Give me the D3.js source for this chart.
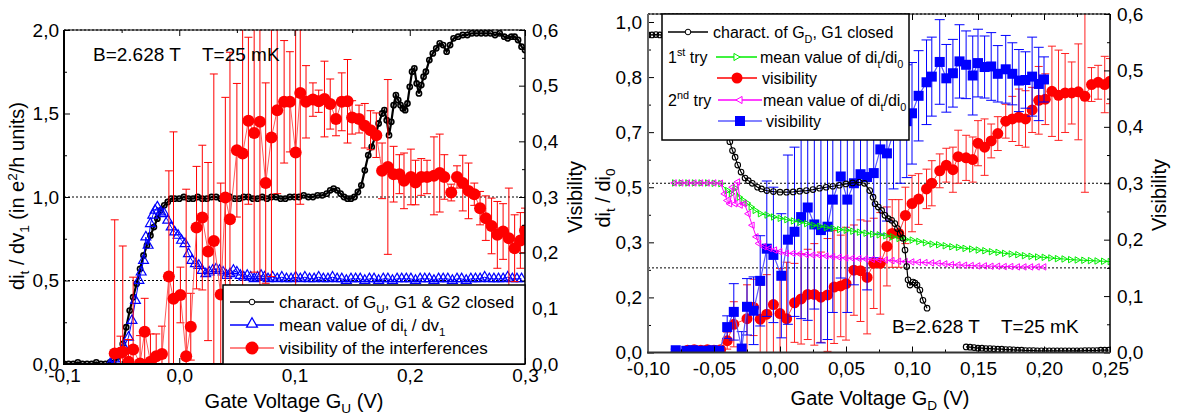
<!DOCTYPE html>
<html lang="en">
<head>
<meta charset="utf-8" />
<title>Gate voltage sweeps: di/dv and visibility</title>
<script src="https://d3js.org/d3.v7.min.js"></script>
<style>
  body { margin: 0; background: #fff; }
  svg { display: block; font-family: "Liberation Sans", Arial, sans-serif; }
  .tick line { stroke: #000; stroke-width: 1; }
  .tick text { font-size: 19px; fill: #000; }
  .legend text { font-size: 17px; }
</style>
</head>
<body>
<svg width="1178" height="415"></svg>
<script>
// ---------- left panel: sweep of G_U ----------
var uCharX = [-0.100,-0.096,-0.092,-0.088,-0.084,-0.080,-0.076,-0.072,-0.068,-0.064,-0.060,
  -0.057,-0.054,-0.051,-0.049,-0.046,-0.043,-0.040,-0.037,-0.034,-0.031,-0.028,-0.025,-0.022,-0.019,-0.016,-0.013,-0.010,-0.007,-0.004,
  0.000,0.004,0.008,0.012,0.016,0.020,0.024,0.028,0.032,0.036,0.040,0.044,0.048,0.052,0.056,0.060,
  0.064,0.068,0.072,0.076,0.080,0.084,0.088,0.092,0.096,0.100,0.104,0.108,0.112,0.116,0.120,0.124,
  0.128,0.131,0.134,0.137,0.140,0.143,0.146,0.149,0.152,0.155,0.158,0.161,0.164,0.167,0.170,0.173,0.176,
  0.178,0.180,0.182,0.184,0.186,0.188,0.190,0.192,0.194,0.196,0.198,0.200,0.202,0.204,0.206,0.208,0.210,0.212,0.214,
  0.217,0.220,0.223,0.226,0.229,0.232,0.235,0.238,
  0.242,0.246,0.250,0.254,0.258,0.262,0.266,0.270,0.274,0.278,0.282,
  0.285,0.288,0.291,0.294,0.297,0.300];
var uCharY = [0.00,0.00,0.00,0.01,0.00,0.00,0.00,0.01,0.00,0.00,0.01,
  0.02,0.04,0.08,0.12,0.22,0.32,0.40,0.48,0.57,0.65,0.71,0.77,0.82,0.87,0.92,0.95,0.97,0.99,0.99,
  0.99,1.00,0.99,0.99,1.00,0.99,0.99,1.00,1.00,0.99,0.99,1.00,0.99,0.99,1.00,1.00,
  0.99,0.99,1.00,0.99,1.00,1.00,0.99,0.99,1.00,1.00,1.00,1.01,1.00,1.00,1.01,1.01,
  1.02,1.04,1.05,1.04,1.02,1.00,0.99,0.99,1.00,1.03,1.07,1.16,1.25,1.30,1.36,1.44,1.50,
  1.52,1.46,1.37,1.45,1.55,1.61,1.58,1.55,1.53,1.52,1.56,1.66,1.75,1.77,1.68,1.62,1.67,1.72,1.75,
  1.82,1.86,1.89,1.92,1.91,1.87,1.91,1.95,
  1.96,1.97,1.97,1.98,1.98,1.98,1.98,1.98,1.97,1.98,1.96,
  1.95,1.96,1.96,1.94,1.90,1.88];

var uMeanX = [-0.060,-0.056,-0.052,-0.048,-0.044,-0.041,-0.038,-0.035,-0.033,-0.031,
  -0.029,-0.027,-0.025,-0.023,-0.021,-0.019,-0.016,-0.013,-0.010,-0.007,
  -0.004,-0.001,0.002,0.005,0.008,0.011,0.014,0.017,0.020,0.023,
  0.026,0.029,0.032,0.035,0.038,0.041,0.044,0.047,0.050,0.053,
  0.056,0.059,0.062,0.065,0.068,0.071,0.074,0.077,
  0.081,0.085,0.089,0.093,0.097,0.101,0.105,0.109,0.113,0.117,
  0.121,0.125,0.129,0.133,0.137,0.141,0.145,0.149,0.153,0.157,
  0.161,0.165,0.169,0.173,0.177,0.181,0.185,0.189,0.193,0.197,
  0.201,0.205,0.209,0.213,0.217,0.221,0.225,0.229,0.233,0.237,
  0.241,0.245,0.249,0.253,0.257,0.261,0.265,0.269,0.273,0.277,
  0.281,0.285,0.289,0.293,0.297];
var uMeanY = [0.00,0.03,0.06,0.10,0.16,0.26,0.38,0.50,0.55,0.62,
  0.76,0.71,0.84,0.89,0.92,0.94,0.91,0.90,0.86,0.82,
  0.79,0.77,0.74,0.72,0.66,0.62,0.60,0.59,0.56,0.54,
  0.55,0.56,0.57,0.56,0.55,0.53,0.54,0.56,0.55,0.53,
  0.52,0.53,0.52,0.51,0.52,0.53,0.52,0.51,
  0.52,0.51,0.52,0.51,0.51,0.52,0.51,0.52,0.51,0.51,
  0.52,0.51,0.51,0.52,0.51,0.51,0.50,0.51,0.51,0.51,
  0.50,0.51,0.51,0.50,0.51,0.51,0.50,0.51,0.51,0.51,
  0.51,0.50,0.51,0.51,0.51,0.50,0.51,0.51,0.51,0.50,
  0.51,0.51,0.50,0.51,0.51,0.51,0.52,0.51,0.51,0.51,
  0.51,0.52,0.51,0.51,0.51];

var uVisX = [-0.056,-0.051,-0.049,-0.044,-0.040, -0.034,-0.030,-0.025,-0.020,-0.015,
  -0.009,-0.005,0.001,0.006,0.010, 0.015,0.020,0.025,0.030,0.036,
  0.040,0.044,0.050,0.055,0.060, 0.065,0.070,0.075,0.080,0.085,
  0.091,0.096,0.101,0.105,0.110, 0.116,0.121,0.126,0.131,0.136,
  0.141,0.146,0.150,0.156,0.161, 0.166,0.171,0.176,0.181,0.186,
  0.191,0.195,0.201,0.205,0.210, 0.215,0.221,0.226,0.230,0.236,
  0.241,0.246,0.251,0.256,0.261, 0.266,0.271,0.276,0.281,0.286,
  0.291,0.296,0.300];
var uVisY = [0.019,0.020,0.022,0.004,0.026, 0.001,0.058,0.004,0.014,0.018,
  0.157,0.117,0.124,0.014,0.067, 0.245,0.263,0.202,0.221,0.125,
  0.299,0.260,0.384,0.378,0.437, 0.415,0.435,0.325,0.407,0.456,
  0.471,0.471,0.380,0.487,0.471, 0.475,0.472,0.476,0.467,0.440,
  0.471,0.472,0.443,0.440,0.428, 0.420,0.411,0.347,0.354,0.341,
  0.341,0.329,0.336,0.326,0.336, 0.336,0.338,0.343,0.336,0.308,
  0.336,0.325,0.311,0.305,0.280, 0.262,0.248,0.232,0.238,0.226,
  0.208,0.222,0.240];
var uVisErr = [0.24,0.03,0.19,0.04,0.13, 0.05,0.06,0.05,0.04,0.05,
  0.19,0.30,0.05,0.30,0.06, 0.11,0.13,0.16,0.30,0.20,
  0.18,0.30,0.12,0.30,0.15, 0.25,0.30,0.18,0.25,0.15,
  0.11,0.09,0.25,0.20,0.065, 0.03,0.02,0.068,0.045,0.03,
  0.052,0.075,0.03,0.025,0.04, 0.035,0.04,0.05,0.157,0.05,
  0.035,0.05,0.05,0.04,0.033, 0.03,0.07,0.07,0.04,0.015,
  0.02,0.05,0.05,0.02,0.03, 0.04,0.05,0.06,0.05,0.09,
  0.06,0.05,0.04];

// ---------- right panel: sweep of G_D ----------
var dCharX = [-0.100,-0.097,-0.094,-0.091,-0.088, -0.080,-0.070,-0.060,-0.050,-0.044,
  -0.040,-0.038,-0.036,-0.034,-0.032, -0.0295,-0.0265,-0.024,-0.021,-0.017,
  -0.014,-0.010,-0.005,0.000,0.005, 0.010,0.015,0.020,0.025,0.030,
  0.035,0.040,0.045,0.050,0.055, 0.060,0.064,0.068,0.0705,0.072,
  0.0745,0.077,0.0795,0.082,0.0846, 0.087,0.089,0.091,0.093,0.0947,
  0.096,0.097,0.0985,0.1008,0.1023, 0.1038,0.106,0.1083,0.1114,
  0.141,0.144,0.147,0.150,0.153,0.156,0.159,0.162,0.165,0.168,
  0.171,0.174,0.177,0.180,0.183,0.186,0.189,0.192,0.195,0.198,
  0.201,0.204,0.207,0.210,0.213,0.216,0.219,0.222,0.225,0.228,
  0.231,0.234,0.237,0.240,0.243,0.246,0.249];
var dCharY = [0.961,0.961,0.962,0.961,0.960, 0.95,0.91,0.84,0.76,0.70,
  0.66,0.638,0.611,0.591,0.567, 0.546,0.528,0.52,0.512,0.50,
  0.495,0.49,0.487,0.485,0.485, 0.486,0.488,0.49,0.493,0.497,
  0.50,0.503,0.506,0.51,0.513, 0.515,0.512,0.49,0.47,0.45,
  0.44,0.43,0.415,0.405,0.40, 0.39,0.375,0.36,0.346,0.31,
  0.26,0.22,0.204,0.213,0.21, 0.204,0.189,0.158,0.134,
  0.017,0.016,0.015,0.013,0.013,0.012,0.012,0.011,0.010,0.010,
  0.009,0.009,0.008,0.007,0.007,0.006,0.006,0.006,0.005,0.005,
  0.005,0.005,0.005,0.005,0.005,0.005,0.005,0.005,0.005,0.005,
  0.006,0.006,0.006,0.006,0.007,0.007,0.007];

var dMean1X = [-0.080,-0.075,-0.070,-0.065,-0.060,-0.055,-0.050,-0.045,-0.040,-0.037,
  -0.034,-0.031,-0.028,-0.025,-0.022,-0.019,-0.015,-0.010,-0.005,
  0.000,0.005,0.010,0.015,0.020,0.025,0.030,0.035,0.040,0.045,
  0.050,0.055,0.060,0.065,0.070,0.075,0.080,0.085,0.090,0.095,
  0.100,0.105,0.110,0.115,0.120,0.125,0.130,0.135,0.140,0.145,
  0.150,0.155,0.160,0.165,0.170,0.175,0.180,0.185,0.190,0.195,
  0.200,0.205,0.210,0.215,0.220,0.225,0.230,0.235,0.240,0.245,
  0.250];
var dMean1Y = [0.513,0.513,0.513,0.513,0.513,0.513,0.512,0.511,0.490,0.480,
  0.497,0.470,0.460,0.452,0.440,0.430,0.420,0.416,0.410,
  0.406,0.402,0.398,0.394,0.390,0.385,0.382,0.378,0.376,0.372,
  0.370,0.367,0.364,0.361,0.358,0.356,0.353,0.350,0.345,0.342,
  0.340,0.336,0.332,0.328,0.326,0.323,0.320,0.318,0.315,0.313,
  0.310,0.308,0.305,0.303,0.300,0.298,0.296,0.293,0.291,0.289,
  0.288,0.286,0.284,0.283,0.281,0.280,0.279,0.278,0.277,0.276,
  0.275];

var dMean2X = [-0.080,-0.075,-0.070,-0.065,-0.060,-0.055,-0.050,-0.045,-0.042,-0.040,
  -0.038,-0.036,-0.034,-0.032,-0.030,-0.027,-0.024,-0.021,-0.018,-0.016,
  -0.012,-0.008,-0.004,
  0.000,0.005,0.010,0.015,0.020,0.025,0.030,0.035,0.040,0.045,
  0.050,0.055,0.060,0.065,0.070,0.075,0.080,0.085,0.090,0.095,
  0.100,0.105,0.110,0.115,0.120,0.125,0.130,0.135,0.140,0.145,
  0.150,0.155,0.160,0.165,0.170,0.175,0.180,0.185,0.190,0.195,
  0.200];
var dMean2Y = [0.513,0.513,0.513,0.513,0.513,0.513,0.513,0.512,0.480,0.460,
  0.450,0.500,0.450,0.516,0.446,0.450,0.420,0.385,0.350,0.330,
  0.320,0.315,0.310,
  0.305,0.300,0.300,0.298,0.296,0.295,0.294,0.292,0.290,0.288,
  0.286,0.285,0.284,0.283,0.282,0.281,0.280,0.278,0.276,0.275,
  0.274,0.273,0.272,0.271,0.270,0.268,0.266,0.265,0.264,0.263,
  0.262,0.262,0.261,0.261,0.260,0.260,0.259,0.259,0.259,0.259,
  0.259];

var dVis1X = [-0.070,-0.065,-0.060,-0.055,-0.050,-0.045,-0.040,-0.035,
  -0.025,-0.020,-0.015,-0.010,-0.005, 0.000,0.005,0.011,0.016,0.021,
  0.026,0.031,0.036,0.041,0.046, 0.050,0.056,0.061,0.066,0.071,
  0.076,0.081,0.085,0.090,0.095, 0.100,0.105,0.111,0.115,0.121,
  0.126,0.131,0.135,0.141,0.146, 0.150,0.155,0.160,0.165,0.171,
  0.176,0.181,0.186,0.191,0.196, 0.201,0.206,0.211,0.216,0.221,
  0.226,0.231,0.236,0.241,0.246, 0.250];
var dVis1Y = [0.004,0.005,0.004,0.005,0.004,0.005,0.021,0.050,
  0.060,0.080,0.059,0.068,0.085, 0.069,0.060,0.088,0.095,0.103,
  0.103,0.098,0.102,0.116,0.118, 0.122,0.146,0.145,0.133,0.158,
  0.158,0.188,0.211,0.211,0.243, 0.264,0.272,0.290,0.300,0.322,
  0.332,0.324,0.347,0.345,0.342, 0.371,0.364,0.375,0.388,0.410,
  0.414,0.417,0.414,0.430,0.447, 0.449,0.463,0.456,0.460,0.460,
  0.462,0.454,0.475,0.479,0.475, 0.481];
var dVis1Err = [0.003,0.003,0.003,0.003,0.003,0.003,0.015,0.04,
  0.06,0.05,0.06,0.07,0.09, 0.08,0.10,0.07,0.08,0.08,
  0.09,0.08,0.10,0.10,0.09, 0.10,0.08,0.09,0.10,0.08,
  0.09,0.07,0.06,0.06,0.05, 0.05,0.045,0.035,0.04,0.03,
  0.03,0.04,0.047,0.04,0.04, 0.04,0.05,0.03,0.03,0.03,
  0.04,0.05,0.05,0.04,0.06, 0.045,0.08,0.08,0.07,0.055,
  0.085,0.17,0.03,0.03,0.05, 0.04];

var dVis2X = [-0.079,-0.071,-0.066,-0.061,-0.056, -0.051,-0.046,-0.040,-0.035,-0.029,
  -0.025,-0.020,-0.015,-0.010,-0.005, 0.001,0.006,0.011,0.016,0.021,
  0.026,0.031,0.036,0.040,0.046, 0.051,0.056,0.061,0.066,0.071,
  0.076,0.081,0.086,0.091,0.096, 0.100,0.105,0.111,0.115,0.121,
  0.126,0.131,0.136,0.141,0.146, 0.150,0.155,0.160,0.165,0.171,
  0.176,0.181,0.186,0.191,0.196, 0.200];
var dVis2Y = [0.004,0.003,0.004,0.003,0.003, 0.004,0.003,0.045,0.072,0.007,
  0.081,0.074,0.127,0.184,0.173, 0.136,0.200,0.214,0.240,0.257,
  0.227,0.217,0.223,0.271,0.312, 0.271,0.300,0.316,0.311,0.318,
  0.360,0.353,0.390,0.400,0.410, 0.424,0.455,0.479,0.489,0.515,
  0.486,0.495,0.516,0.510,0.491, 0.513,0.506,0.507,0.494,0.502,
  0.494,0.482,0.483,0.489,0.476, 0.484];
var dVis2Err = [0.002,0.002,0.002,0.002,0.002, 0.002,0.002,0.02,0.05,0.03,
  0.05,0.06,0.08,0.12,0.12, 0.11,0.15,0.15,0.18,0.20,
  0.15,0.20,0.20,0.20,0.18, 0.20,0.18,0.15,0.20,0.15,
  0.15,0.12,0.10,0.10,0.10, 0.09,0.08,0.075,0.07,0.075,
  0.06,0.06,0.065,0.06,0.07, 0.06,0.055,0.06,0.05,0.06,
  0.055,0.055,0.05,0.07,0.065, 0.04];

// ---------- ticks ----------
var uXTicks = [-0.1, 0, 0.1, 0.2, 0.3], uXMinor = [-0.05, 0.05, 0.15, 0.25];
var uYTicks = [0, 0.5, 1.0, 1.5, 2.0], uYMinor = [0.25, 0.75, 1.25, 1.75];
var visTicks = [0, 0.1, 0.2, 0.3, 0.4, 0.5, 0.6], visMinor = [0.05, 0.15, 0.25, 0.35, 0.45, 0.55];
var dXTicks = [-0.1, -0.05, 0, 0.05, 0.1, 0.15, 0.2, 0.25];
var dXMinor = [-0.075, -0.025, 0.025, 0.075, 0.125, 0.175, 0.225];
var dYTicks = [0, 0.1667, 0.3333, 0.5, 0.6667, 0.8333, 1.0];
var dYMinor = [0.0833, 0.25, 0.4167, 0.5833, 0.75, 0.9167];
var uRefLines = [0.5, 1.0, 2.0];      // dotted, left axis units
var dRefLines = [0.15, 0.3, 0.6];     // dotted, visibility units

var svg = d3.select("svg");
var loc = d3.formatLocale({decimal: ",", thousands: ".", grouping: [3], currency: ["", ""], minus: "-"});
var f1 = loc.format(".1f"), f2 = loc.format(".2f");

function zip(xs, ys, es) {
  return xs.map(function(x, i) { return {x: x, y: ys[i], e: es ? es[i] : 0}; });
}

// text with sub/superscripts: parts = [[text, "sub"|"sup"|undefined], ...]
function rich(t, parts) {
  var shift = 0;
  parts.forEach(function(p) {
    var want = p[1] === "sub" ? 5 : (p[1] === "sup" ? -7 : 0);
    var ts = t.append("tspan").attr("dy", want - shift).text(p[0]);
    if (p[1]) ts.style("font-size", "0.68em");
    shift = want;
  });
  return t;
}

var tri = function(size) { return d3.symbol().type(d3.symbolTriangle).size(size)(); };

function axes(g, box, x, y, v, o) {
  function put(gen, tf, vals, size, fmt, pad) {
    var a = g.append("g").attr("transform", tf)
      .call(gen.tickValues(vals).tickSize(-size).tickSizeOuter(0).tickPadding(pad || 3).tickFormat(fmt || ""));
    a.select(".domain").remove();
    return a;
  }
  var tb = "translate(0," + box.b + ")", tt = "translate(0," + box.t + ")";
  var tl = "translate(" + box.l + ",0)", tr = "translate(" + box.r + ",0)";
  put(d3.axisBottom(x), tb, o.xTicks, 6, o.xFmt, o.xPad);
  put(d3.axisBottom(x), tb, o.xMinor, 3);
  put(d3.axisTop(x), tt, o.xTicks, 6);
  put(d3.axisTop(x), tt, o.xMinor, 3);
  put(d3.axisLeft(y), tl, o.yTicks, 6, o.yFmt, o.yPad);
  put(d3.axisLeft(y), tl, o.yMinor, 3);
  put(d3.axisRight(v), tr, visTicks, 6, f1, o.vPad);
  put(d3.axisRight(v), tr, visMinor, 3);
  g.selectAll(".tick text").attr("fill", "#000").style("font-family", "inherit");
  g.append("line").attr("x1", box.l).attr("x2", box.r).attr("y1", box.t).attr("y2", box.t)
    .attr("stroke", "#000").attr("stroke-width", 1.2);
  g.append("line").attr("x1", box.r).attr("x2", box.r).attr("y1", box.t).attr("y2", box.b)
    .attr("stroke", "#000").attr("stroke-width", 1.5);
  g.append("line").attr("x1", box.l).attr("x2", box.l).attr("y1", box.t).attr("y2", box.b + 1)
    .attr("stroke", o.leftColor).attr("stroke-width", 2);
  g.append("line").attr("x1", box.l - 1).attr("x2", box.r).attr("y1", box.b).attr("y2", box.b)
    .attr("stroke", o.bottomColor).attr("stroke-width", 2);
}

function errBars(g, data, x, v, color, cap) {
  var eb = g.append("g").attr("stroke", color).attr("stroke-width", 1);
  data.forEach(function(d) {
    var cx = x(d.x), y0 = v(d.y - d.e), y1 = v(d.y + d.e);
    eb.append("line").attr("x1", cx).attr("x2", cx).attr("y1", y0).attr("y2", y1);
    eb.append("line").attr("x1", cx - cap).attr("x2", cx + cap).attr("y1", y0).attr("y2", y0);
    eb.append("line").attr("x1", cx - cap).attr("x2", cx + cap).attr("y1", y1).attr("y2", y1);
  });
}

function path(g, data, x, y, color, w) {
  g.append("path").datum(data)
    .attr("d", d3.line().x(function(d) { return x(d.x); }).y(function(d) { return y(d.y); }))
    .attr("fill", "none").attr("stroke", color).attr("stroke-width", w);
}

// ======================= LEFT PANEL =======================
var L = {l: 64, r: 525, t: 30, b: 364};
var xU = d3.scaleLinear().domain([-0.1, 0.3]).range([L.l, L.r]);
var yU = d3.scaleLinear().domain([0, 2]).range([L.b, L.t]);
var vU = d3.scaleLinear().domain([0, 0.6]).range([L.b, L.t]);

svg.append("clipPath").attr("id", "clipU").append("rect")
  .attr("x", L.l).attr("y", L.t).attr("width", L.r - L.l).attr("height", L.b - L.t);

var gU = svg.append("g");
gU.selectAll(".ref").data(uRefLines).enter().append("line")
  .attr("x1", L.l).attr("x2", L.r).attr("y1", function(d) { return yU(d); }).attr("y2", function(d) { return yU(d); })
  .attr("stroke", "#000").attr("stroke-width", 1).attr("stroke-dasharray", "2,2");

var pU = gU.append("g").attr("clip-path", "url(#clipU)");

var uChar = zip(uCharX, uCharY);
path(pU, uChar, xU, yU, "#000", 2.2);
pU.selectAll(".uc").data(uChar).enter().append("circle")
  .attr("cx", function(d) { return xU(d.x); }).attr("cy", function(d) { return yU(d.y); })
  .attr("r", 2.6).attr("fill", "none").attr("stroke", "#000").attr("stroke-width", 1.6);

var uMean = zip(uMeanX, uMeanY);
path(pU, uMean, xU, yU, "#0000ff", 1);
pU.selectAll(".um").data(uMean).enter().append("path")
  .attr("d", tri(42))
  .attr("transform", function(d) { return "translate(" + xU(d.x) + "," + yU(d.y) + ")"; })
  .attr("fill", "none").attr("stroke", "#0000ff").attr("stroke-width", 1.2);

var uVis = zip(uVisX, uVisY, uVisErr);
errBars(pU, uVis, xU, vU, "#ff0000", 4);
path(pU, uVis, xU, vU, "#ff5a5a", 1);
pU.selectAll(".uv").data(uVis).enter().append("circle")
  .attr("cx", function(d) { return xU(d.x); }).attr("cy", function(d) { return vU(d.y); })
  .attr("r", 6).attr("fill", "#ff0000");

axes(gU, L, xU, yU, vU, {
  xTicks: uXTicks, xMinor: uXMinor, xFmt: f1, xPad: 5,
  yTicks: uYTicks, yMinor: uYMinor, yFmt: f1, yPad: 5, vPad: 7,
  leftColor: "#000", bottomColor: "#000"
});

gU.append("text").attr("x", 93).attr("y", 61).style("font-size", "19px").text("B=2.628 T");
gU.append("text").attr("x", 202).attr("y", 61).style("font-size", "19px").text("T=25 mK");

rich(gU.append("text").attr("x", 294).attr("y", 408).attr("text-anchor", "middle").style("font-size", "20px"),
  [["Gate Voltage G"], ["U", "sub"], [" (V)"]]);
rich(gU.append("text").attr("transform", "translate(24,196) rotate(-90)").attr("text-anchor", "middle").style("font-size", "20px"),
  [["di"], ["t", "sub"], [" / dv"], ["1", "sub"], [" (in e"], ["2", "sup"], ["/h units)"]]);
gU.append("text").attr("transform", "translate(582,197) rotate(-90)").attr("text-anchor", "middle")
  .style("font-size", "20px").text("Visibility");

// legend
var lgU = gU.append("g").attr("class", "legend");
lgU.append("rect").attr("x", 223).attr("y", 285).attr("width", 302).attr("height", 79)
  .attr("fill", "#fff").attr("stroke", "#000").attr("stroke-width", 1.5);
[302, 325, 348].forEach(function(ry, i) {
  var col = ["#000", "#0000ff", "#ff5a5a"][i];
  lgU.append("line").attr("x1", 230).attr("x2", 274).attr("y1", ry).attr("y2", ry)
    .attr("stroke", col).attr("stroke-width", 1.3);
});
lgU.append("circle").attr("cx", 252).attr("cy", 302).attr("r", 2.8).attr("fill", "#fff").attr("stroke", "#000");
lgU.append("path").attr("d", tri(50)).attr("transform", "translate(252,324)")
  .attr("fill", "#fff").attr("stroke", "#0000ff").attr("stroke-width", 1.3);
lgU.append("circle").attr("cx", 252).attr("cy", 348).attr("r", 6.5).attr("fill", "#ff0000");
rich(lgU.append("text").attr("x", 279).attr("y", 308), [["charact. of G"], ["U", "sub"], [", G1 & G2 closed"]]);
rich(lgU.append("text").attr("x", 279).attr("y", 331), [["mean value of di"], ["t", "sub"], [" / dv"], ["1", "sub"]]);
lgU.append("text").attr("x", 279).attr("y", 354).text("visibility of the interferences");

// ======================= RIGHT PANEL =======================
var R = {l: 648, r: 1110, t: 14, b: 352.5};
var xD = d3.scaleLinear().domain([-0.1, 0.25]).range([R.l, R.r]);
var yD = d3.scaleLinear().domain([0, 1.0242]).range([R.b, R.t]);
var vD = d3.scaleLinear().domain([0, 0.6]).range([R.b, R.t]);

svg.append("clipPath").attr("id", "clipD").append("rect")
  .attr("x", R.l).attr("y", R.t).attr("width", R.r - R.l).attr("height", R.b - R.t);

var gD = svg.append("g");
gD.selectAll(".ref").data(dRefLines).enter().append("line")
  .attr("x1", R.l).attr("x2", R.r).attr("y1", function(d) { return vD(d); }).attr("y2", function(d) { return vD(d); })
  .attr("stroke", "#000").attr("stroke-width", 1).attr("stroke-dasharray", "2,2");

var pD = gD.append("g").attr("clip-path", "url(#clipD)");

var dVis1 = zip(dVis1X, dVis1Y, dVis1Err);
errBars(pD, dVis1, xD, vD, "#ff2020", 4);
path(pD, dVis1, xD, vD, "#ff4040", 1);
pD.selectAll(".v1").data(dVis1).enter().append("circle")
  .attr("cx", function(d) { return xD(d.x); }).attr("cy", function(d) { return vD(d.y); })
  .attr("r", 5.5).attr("fill", "#ff0000");

var dVis2 = zip(dVis2X, dVis2Y, dVis2Err);
errBars(pD, dVis2, xD, vD, "#0000ff", 5);
path(pD, dVis2, xD, vD, "#5a5aff", 1.2);
pD.selectAll(".v2").data(dVis2).enter().append("rect")
  .attr("x", function(d) { return xD(d.x) - 5; }).attr("y", function(d) { return vD(d.y) - 5; })
  .attr("width", 10).attr("height", 10).attr("fill", "#0000ff");

var dMean1 = zip(dMean1X, dMean1Y);
path(pD, dMean1, xD, yD, "#00ee00", 1);
pD.selectAll(".m1").data(dMean1).enter().append("path")
  .attr("d", tri(18))
  .attr("transform", function(d) { return "translate(" + xD(d.x) + "," + yD(d.y) + ") rotate(90)"; })
  .attr("fill", "none").attr("stroke", "#00ee00").attr("stroke-width", 1);

var dMean2 = zip(dMean2X, dMean2Y);
path(pD, dMean2, xD, yD, "#ff00ff", 1);
pD.selectAll(".m2").data(dMean2).enter().append("path")
  .attr("d", tri(18))
  .attr("transform", function(d) { return "translate(" + xD(d.x) + "," + yD(d.y) + ") rotate(-90)"; })
  .attr("fill", "none").attr("stroke", "#ff00ff").attr("stroke-width", 1);

// characteristic curve, drawn in pieces where the sweep has gaps
var dChar = zip(dCharX, dCharY), seg = [[]];
dChar.forEach(function(d, i) {
  if (i > 0 && d.x - dChar[i - 1].x > 0.02) seg.push([]);
  seg[seg.length - 1].push(d);
});
seg.forEach(function(s) { path(pD, s, xD, yD, "#000", 1.2); });
pD.selectAll(".dc").data(dChar).enter().append("circle")
  .attr("cx", function(d) { return xD(d.x); }).attr("cy", function(d) { return yD(d.y); })
  .attr("r", 2.8).attr("fill", "none").attr("stroke", "#000").attr("stroke-width", 1.1);

axes(gD, R, xD, yD, vD, {
  xTicks: dXTicks, xMinor: dXMinor, xFmt: f2, xPad: 9,
  yTicks: dYTicks, yMinor: dYMinor, yFmt: f1, yPad: 6, vPad: 7,
  leftColor: "#666", bottomColor: "#333"
});

gD.append("text").attr("x", 892).attr("y", 333).style("font-size", "19px").text("B=2.628 T");
gD.append("text").attr("x", 1001).attr("y", 333).style("font-size", "19px").text("T=25 mK");

rich(gD.append("text").attr("x", 880).attr("y", 405).attr("text-anchor", "middle").style("font-size", "20px"),
  [["Gate Voltage G"], ["D", "sub"], [" (V)"]]);
rich(gD.append("text").attr("transform", "translate(610,198) rotate(-90)").attr("text-anchor", "middle").style("font-size", "20px"),
  [["di"], ["t", "sub"], [" / di"], ["0", "sub"]]);
gD.append("text").attr("transform", "translate(1166,195) rotate(-90)").attr("text-anchor", "middle")
  .style("font-size", "20px").text("Visibility");

// legend
var lgD = gD.append("g").attr("class", "legend");
lgD.append("rect").attr("x", 662).attr("y", 14).attr("width", 247).attr("height", 126)
  .attr("fill", "#fff").attr("stroke", "#000").attr("stroke-width", 1.5);
var rows = [
  {y: 32, x1: 668, x2: 708, c: "#000"},
  {y: 57, x1: 716, x2: 757, c: "#00ee00"},
  {y: 78, x1: 717, x2: 757, c: "#ff0000"},
  {y: 100, x1: 718, x2: 762, c: "#ff00ff"},
  {y: 121, x1: 718, x2: 762, c: "#5a5aff"}
];
rows.forEach(function(r) {
  lgD.append("line").attr("x1", r.x1).attr("x2", r.x2).attr("y1", r.y).attr("y2", r.y)
    .attr("stroke", r.c).attr("stroke-width", 1.3);
});
lgD.append("circle").attr("cx", 688).attr("cy", 32).attr("r", 2.8).attr("fill", "#fff").attr("stroke", "#000");
lgD.append("path").attr("d", tri(22)).attr("transform", "translate(736,57) rotate(90)")
  .attr("fill", "#fff").attr("stroke", "#00ee00");
lgD.append("circle").attr("cx", 737).attr("cy", 78).attr("r", 5.5).attr("fill", "#ff0000");
lgD.append("path").attr("d", tri(22)).attr("transform", "translate(740,100) rotate(-90)")
  .attr("fill", "#fff").attr("stroke", "#ff00ff");
lgD.append("rect").attr("x", 735).attr("y", 116).attr("width", 10).attr("height", 10).attr("fill", "#0000ff");

var lt = function(x, y) { return lgD.append("text").attr("x", x).attr("y", y).style("font-size", "16px"); };
rich(lt(713, 38), [["charact. of G"], ["D", "sub"], [", G1 closed"]]);
rich(lt(668, 63), [["1"], ["st", "sup"], [" try"]]);
rich(lt(760, 63), [["mean value of di"], ["t", "sub"], ["/di"], ["0", "sub"]]);
lt(762, 84).text("visibility");
rich(lt(668, 106), [["2"], ["nd", "sup"], [" try"]]);
rich(lt(763, 106), [["mean value of di"], ["t", "sub"], ["/di"], ["0", "sub"]]);
lt(766, 127).text("visibility");
</script>
</body>
</html>
